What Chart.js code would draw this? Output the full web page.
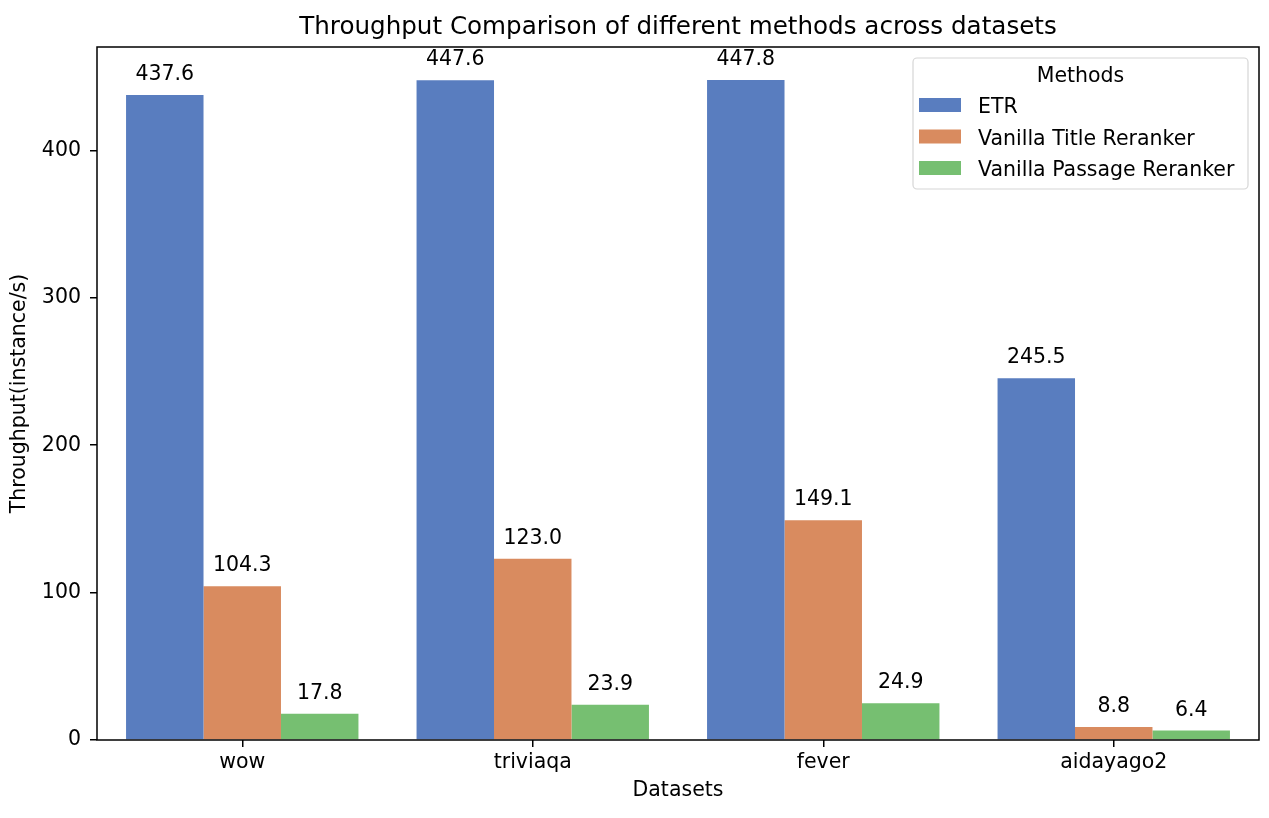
<!DOCTYPE html>
<html>
<head>
<meta charset="utf-8">
<script src="https://cdn.jsdelivr.net/npm/chart.js@4.4.1/dist/chart.umd.min.js"></script>
<style>
  html, body { margin: 0; padding: 0; background: #fff; }
  #wrap { width: 1269px; height: 818px; }
</style>
</head>
<body>
<div id="wrap"><canvas id="chart" width="1269" height="818"></canvas></div>
<script>
// data
const datasetsNames = ['wow', 'triviaqa', 'fever', 'aidayago2'];
const etr = [437.6, 447.6, 447.8, 245.5];
const vanillaTitle = [104.3, 123.0, 149.1, 8.8];
const vanillaPassage = [17.8, 23.9, 24.9, 6.4];
const yTicks = [0, 100, 200, 300, 400];
const methodNames = ['ETR', 'Vanilla Title Reranker', 'Vanilla Passage Reranker'];
const methodColors = ['#597dbf', '#d98b5f', '#76bf71'];

const FONT = 'DejaVu Sans';
const FS = 20.5;   // 10pt text
const TFS = 24.6;  // 12pt title

// boxed frame round the plot area (matplotlib spines)
const frame = {
  id: 'frame',
  afterDraw(chart) {
    const { ctx, chartArea: a } = chart;
    ctx.save();
    ctx.strokeStyle = '#000';
    ctx.lineWidth = 1.5;
    ctx.strokeRect(a.left, a.top, a.right - a.left, a.bottom - a.top);
    ctx.restore();
  }
};

// value labels above the bars
const valueLabels = {
  id: 'valueLabels',
  afterDatasetsDraw(chart) {
    const { ctx } = chart;
    ctx.save();
    ctx.font = `${FS}px "${FONT}"`;
    ctx.fillStyle = '#000';
    ctx.textAlign = 'center';
    ctx.textBaseline = 'alphabetic';
    chart.data.datasets.forEach((ds, i) => {
      chart.getDatasetMeta(i).data.forEach((bar, j) => {
        ctx.fillText(ds.data[j].toFixed(1), bar.x, bar.y - 15);
      });
    });
    ctx.restore();
  }
};

// title centred over the plot area + legend box in the top right
const titleAndLegend = {
  id: 'titleAndLegend',
  afterDraw(chart) {
    const { ctx, chartArea: a } = chart;
    ctx.save();
    ctx.fillStyle = '#000';
    ctx.font = `${TFS}px "${FONT}"`;
    ctx.textAlign = 'center';
    ctx.textBaseline = 'alphabetic';
    ctx.fillText('Throughput Comparison of different methods across datasets', (a.left + a.right) / 2, 34);

    // legend frame
    const x0 = 913, y0 = 58, x1 = 1248, y1 = 189, r = 4;
    ctx.beginPath();
    ctx.moveTo(x0 + r, y0);
    ctx.arcTo(x1, y0, x1, y1, r);
    ctx.arcTo(x1, y1, x0, y1, r);
    ctx.arcTo(x0, y1, x0, y0, r);
    ctx.arcTo(x0, y0, x1, y0, r);
    ctx.closePath();
    ctx.fillStyle = 'rgba(255,255,255,0.8)';
    ctx.fill();
    ctx.strokeStyle = '#d6d6d6';
    ctx.lineWidth = 1.2;
    ctx.stroke();

    ctx.fillStyle = '#000';
    ctx.font = `${FS}px "${FONT}"`;
    ctx.fillText('Methods', (x0 + x1) / 2, 82);

    ctx.textAlign = 'left';
    chart.data.datasets.forEach((ds, i) => {
      const cy = 105 + i * 31.5;
      ctx.fillStyle = ds.backgroundColor;
      ctx.fillRect(919, cy - 7, 42, 14);
      ctx.fillStyle = '#000';
      ctx.fillText(ds.label, 978, cy + 8);
    });
    ctx.restore();
  }
};

new Chart(document.getElementById('chart'), {
  type: 'bar',
  data: {
    labels: datasetsNames,
    datasets: [etr, vanillaTitle, vanillaPassage].map((vals, i) => ({
      label: methodNames[i],
      data: vals,
      backgroundColor: methodColors[i],
      borderWidth: 0,
      categoryPercentage: 0.8,
      barPercentage: 1.0
    }))
  },
  options: {
    responsive: false,
    animation: false,
    layout: { padding: { left: 0, top: 47, right: 10, bottom: 0 } },
    plugins: {
      legend: { display: false },
      title: { display: false },
      tooltip: { enabled: false }
    },
    scales: {
      x: {
        grid: { display: true, offset: false, drawOnChartArea: false, color: '#000', tickLength: 7, lineWidth: 1.5 },
        border: { display: false },
        ticks: { color: '#000', font: { family: FONT, size: FS }, padding: 3, maxRotation: 0 },
        title: { display: true, text: 'Datasets', color: '#000', font: { family: FONT, size: FS }, padding: { top: 0, bottom: 15 } },
        afterFit(scale) { scale.height = 78; }
      },
      y: {
        min: 0,
        max: 470.2,
        afterBuildTicks(scale) { scale.ticks = yTicks.map(v => ({ value: v })); },
        grid: { display: true, drawOnChartArea: false, color: '#000', tickLength: 7, lineWidth: 1.5 },
        border: { display: false },
        ticks: { color: '#000', font: { family: FONT, size: FS }, padding: 9 },
        title: { display: true, text: 'Throughput(instance/s)', color: '#000', font: { family: FONT, size: FS }, padding: { top: 7, bottom: 0 } },
        afterFit(scale) { scale.width = 97; }
      }
    }
  },
  plugins: [frame, valueLabels, titleAndLegend]
});
</script>
</body>
</html>
